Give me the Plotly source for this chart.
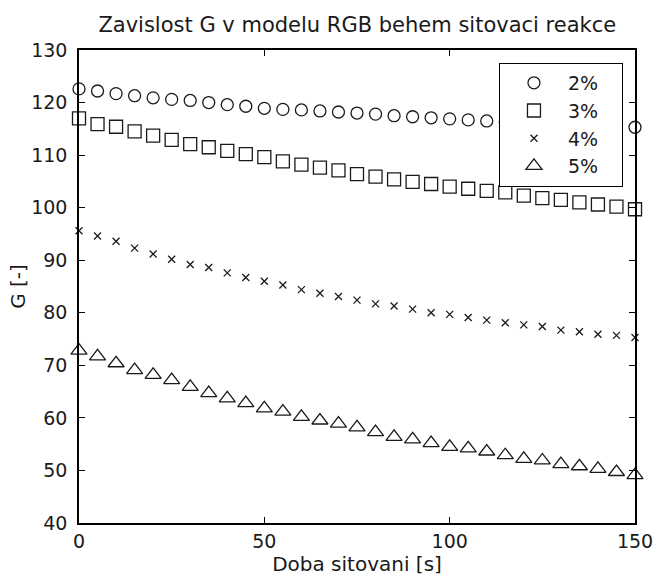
import plotly.graph_objects as go

time_s = [0, 5, 10, 15, 20, 25, 30, 35, 40, 45, 50, 55, 60, 65, 70, 75,
          80, 85, 90, 95, 100, 105, 110, 115, 120, 125, 130, 135, 140, 145, 150]

g_2 = [122.6, 122.2, 121.7, 121.3, 120.9, 120.6, 120.4, 120.0, 119.6, 119.3, 118.9,
       118.7, 118.6, 118.4, 118.2, 118.0, 117.8, 117.5, 117.3, 117.1, 116.9, 116.7,
       116.5, 116.3, 116.1, 116.0, 115.8, 115.7, 115.5, 115.4, 115.3]
g_3 = [117.0, 115.9, 115.4, 114.5, 113.7, 112.9, 112.1, 111.5, 110.8, 110.2, 109.6,
       108.8, 108.2, 107.6, 107.1, 106.4, 105.9, 105.4, 104.9, 104.5, 104.0, 103.6,
       103.2, 102.9, 102.3, 101.8, 101.5, 101.0, 100.6, 100.2, 99.7]
g_4 = [95.6, 94.6, 93.6, 92.3, 91.2, 90.2, 89.2, 88.6, 87.6, 86.7, 86.0,
       85.3, 84.4, 83.7, 83.1, 82.4, 81.7, 81.3, 80.7, 80.0, 79.7, 79.1,
       78.6, 78.1, 77.7, 77.4, 76.7, 76.4, 75.9, 75.7, 75.3]
g_5 = [72.8, 71.7, 70.4, 69.1, 68.2, 67.2, 65.9, 64.7, 63.7, 62.8, 61.8,
       61.2, 60.2, 59.5, 58.9, 58.2, 57.3, 56.4, 55.9, 55.2, 54.5, 54.2,
       53.6, 52.9, 52.2, 51.9, 51.2, 50.8, 50.3, 49.7, 49.1]

series_names = ["2%", "3%", "4%", "5%"]
series_values = [g_2, g_3, g_4, g_5]
symbols = ["circle-open", "square-open", "x-thin-open", "triangle-up-open"]
sizes = [12, 13, 7, 14]

x_ticks = [0, 50, 100, 150]
y_ticks = [40, 50, 60, 70, 80, 90, 100, 110, 120, 130]

FONT = "DejaVu Sans"
INK = "#1a1a1a"
PAD = "\u00a0" * 3  # invisible trailing padding to widen the legend box

fig = go.Figure()
for name, vals, sym, sz in zip(series_names, series_values, symbols, sizes):
    fig.add_trace(go.Scatter(
        x=time_s, y=vals, name=name + PAD, mode="markers", cliponaxis=False,
        marker=dict(symbol=sym, size=sz, color=INK,
                    line=dict(color=INK, width=1.3)),
    ))

axis_common = dict(
    showline=True, linecolor="black", linewidth=1.5, mirror="ticks",
    ticks="inside", ticklen=6, tickwidth=1.2, tickcolor="black",
    showgrid=False, zeroline=False, automargin=False,
    tickfont=dict(family=FONT, size=19, color=INK),
)

fig.update_layout(
    width=655, height=577,
    margin=dict(l=79, r=20, t=50, b=54, autoexpand=False),
    paper_bgcolor="white", plot_bgcolor="white",
    font=dict(family=FONT, color=INK),
    title=dict(text="Zavislost G v modelu RGB behem sitovaci reakce",
               font=dict(family=FONT, size=21, color=INK),
               x=0.5455, xanchor="center", y=1 - 25 / 577, yanchor="middle",
               yref="container", automargin=False),
    xaxis=dict(range=[0, 150], tickvals=x_ticks,
               title=dict(text="Doba sitovani [s]", standoff=2,
                          font=dict(family=FONT, size=20, color=INK)),
               **axis_common),
    yaxis=dict(range=[40, 130], tickvals=y_ticks, ticklabelstandoff=6,
               title=dict(text="G [-]", standoff=0,
                          font=dict(family=FONT, size=20, color=INK)),
               **axis_common),
    showlegend=True,
    legend=dict(x=0.978, xanchor="right", y=0.973, yanchor="top",
                bgcolor="white", bordercolor="black", borderwidth=1.2,
                font=dict(family=FONT, size=19, color=INK),
                itemwidth=58, tracegroupgap=0),
)

fig.write_html("out.html")
